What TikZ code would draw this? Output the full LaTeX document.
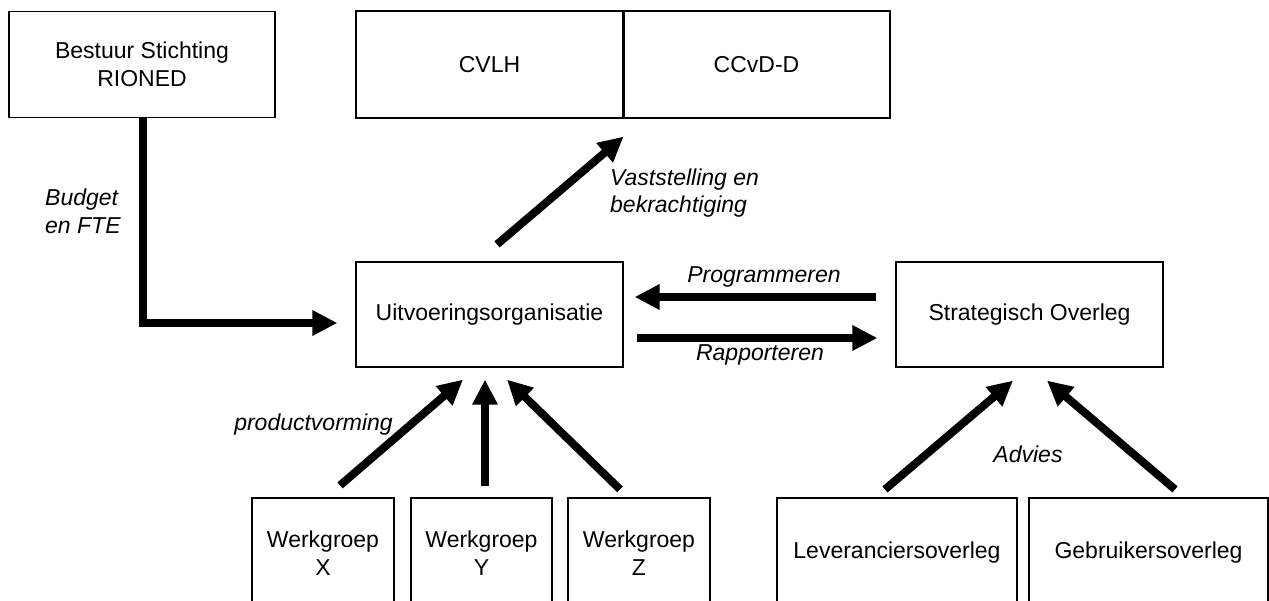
\documentclass[tikz,border=0pt]{standalone}
\usepackage{fontspec}
\setmainfont{Liberation Sans}
\usetikzlibrary{arrows.meta}
\tikzset{
  box/.style={draw=black, line width=1.2pt, inner sep=0pt, align=center,
    font=\fontsize{23}{28}\selectfont},
  lbl/.style={inner sep=0pt, font=\fontsize{23}{28}\selectfont\itshape},
  bigarrow/.style={line width=8pt, line join=miter,
    -{Triangle[length=25pt,width=24pt]}},
}
\begin{document}
\begin{tikzpicture}[x=1pt,y=-1pt]
\useasboundingbox (0,0) rectangle (1269,600);
\clip (0,0) rectangle (1269,600);
\fill[white] (0,0) rectangle (1269,600);

% boxes
\node[box, minimum width=266pt, minimum height=106pt] (bestuur) at (142,64.5) {Bestuur Stichting\\RIONED};
\node[box, minimum width=267pt, minimum height=107pt] (cvlh) at (489.5,64.5) {CVLH};
\node[box, minimum width=267pt, minimum height=107pt] (ccvd) at (756.5,64.5) {CCvD-D};
\draw[line width=3pt] (cvlh.north east) -- (cvlh.south east);
\node[box, minimum width=267pt, minimum height=105pt] (uitv) at (489.5,314.5) {Uitvoeringsorganisatie};
\node[box, minimum width=267pt, minimum height=105pt] (strat) at (1029.5,314.5) {Strategisch Overleg};
\node[box, minimum width=142pt, minimum height=110pt] (wx) at (323,553) {Werkgroep\\X};
\node[box, minimum width=141pt, minimum height=110pt] (wy) at (481.5,553) {Werkgroep\\Y};
\node[box, minimum width=142pt, minimum height=110pt] (wz) at (639,553) {Werkgroep\\Z};
\node[box, minimum width=240pt, minimum height=110pt] (lev) at (897,553) {Leveranciersoverleg};
\node[box, minimum width=239pt, minimum height=110pt] (geb) at (1148.5,553) {Gebruikersoverleg};

% arrows
\draw[bigarrow] ([xshift=1pt]bestuur.south) |- ([xshift=-18pt,yshift=-8.5pt]uitv.west);
\draw[bigarrow] ([xshift=7.5pt,yshift=17pt]uitv.north) -- ([yshift=-18pt]cvlh.south east);
\draw[bigarrow] ([xshift=-19pt,yshift=17.5pt]strat.west) -- ([xshift=11pt,yshift=17.5pt]uitv.east);
\draw[bigarrow] ([xshift=13pt,yshift=-23.5pt]uitv.east) -- ([xshift=-18pt,yshift=-23.5pt]strat.west);
\draw[bigarrow] ([xshift=17pt,yshift=12pt]wx.north) -- ([xshift=-26.5pt,yshift=-12pt]uitv.south);
\draw[bigarrow] ([xshift=3.5pt,yshift=11pt]wy.north) -- ([xshift=-4.5pt,yshift=-12pt]uitv.south);
\draw[bigarrow] ([xshift=-19pt,yshift=8pt]wz.north) -- ([xshift=17.5pt,yshift=-12pt]uitv.south);
\draw[bigarrow] ([xshift=-12pt,yshift=8pt]lev.north) -- ([xshift=-16.5pt,yshift=-13pt]strat.south);
\draw[bigarrow] ([xshift=26.5pt,yshift=8pt]geb.north) -- ([xshift=17.5pt,yshift=-13pt]strat.south);

% labels
\node[lbl, anchor=base west] (budget1) at (45,205) {Budget};
\node[lbl, anchor=base west] (budget2) at (45,233) {en FTE};
\node[lbl, anchor=base west] (vast1) at (610,185) {Vaststelling en};
\node[lbl, anchor=base west] (vast2) at (610,212) {bekrachtiging};
\node[lbl, anchor=base] (prog) at (764,282) {Programmeren};
\node[lbl, anchor=base] (rapp) at (760,360) {Rapporteren};
\node[lbl, anchor=base east] (prod) at (393,430) {productvorming};
\node[lbl, anchor=base] (adv) at (1028,462) {Advies};
\end{tikzpicture}
\end{document}
